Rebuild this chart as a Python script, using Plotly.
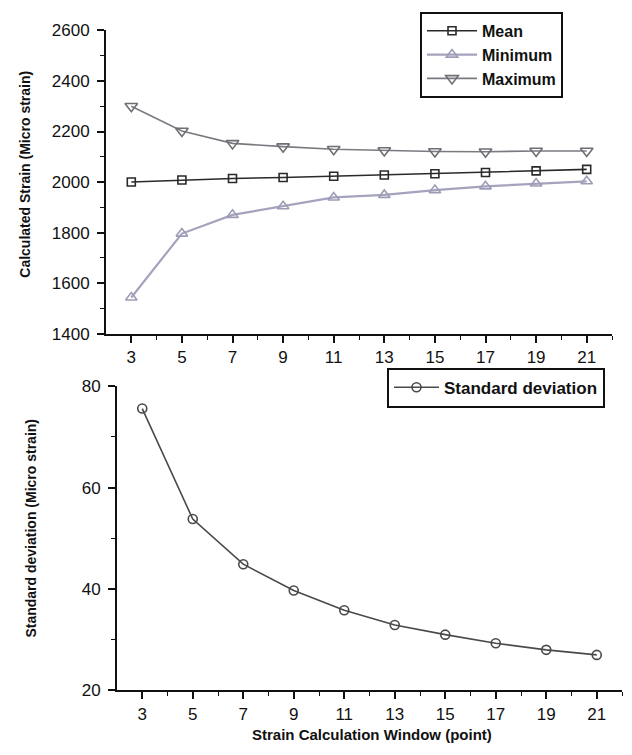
import plotly.graph_objects as go

# ---------------- data ----------------
windows = [3, 5, 7, 9, 11, 13, 15, 17, 19, 21]
mean_strain = [2000, 2008, 2014, 2018, 2023, 2028, 2033, 2038, 2044, 2050]
min_strain = [1543, 1796, 1870, 1904, 1939, 1949, 1968, 1983, 1994, 2003]
max_strain = [2300, 2202, 2153, 2140, 2130, 2125, 2121, 2120, 2123, 2123]
std_dev = [75.6, 53.8, 44.9, 39.7, 35.8, 32.9, 31.0, 29.3, 28.0, 27.0]

x_ticks = [3, 5, 7, 9, 11, 13, 15, 17, 19, 21]
x_minor = [4, 6, 8, 10, 12, 14, 16, 18, 20, 22]

W, H = 632, 755
FONT = "Liberation Sans, Arial, sans-serif"


def px_x(p):
    return p / W


def px_y(p):
    return 1 - p / H


fig = go.Figure()

fig.add_trace(go.Scatter(
    x=windows, y=mean_strain, name="Mean", mode="lines+markers",
    line=dict(color="#2a2a2a", width=1.6),
    marker=dict(symbol="square-open", size=8, color="#2a2a2a", line=dict(width=1.6)),
    xaxis="x", yaxis="y", legend="legend"))
fig.add_trace(go.Scatter(
    x=windows, y=min_strain, name="Minimum", mode="lines+markers",
    line=dict(color="#a4a3bd", width=2.2),
    marker=dict(symbol="triangle-up-open", size=10, color="#9d9cb6", line=dict(width=1.6)),
    xaxis="x", yaxis="y", legend="legend"))
fig.add_trace(go.Scatter(
    x=windows, y=max_strain, name="Maximum", mode="lines+markers",
    line=dict(color="#7a7a80", width=1.6),
    marker=dict(symbol="triangle-down-open", size=11, color="#6e6e75", line=dict(width=1.6)),
    xaxis="x", yaxis="y", legend="legend"))
fig.add_trace(go.Scatter(
    x=windows, y=std_dev, name="Standard deviation", mode="lines+markers",
    line=dict(color="#4a4a4a", width=1.6),
    marker=dict(symbol="circle-open", size=9, color="#4a4a4a", line=dict(width=1.6)),
    xaxis="x2", yaxis="y2", legend="legend2"))

axis_common = dict(
    showline=True, linecolor="#111", linewidth=2, mirror=False,
    showgrid=False, zeroline=False, ticks="outside", ticklen=7,
    tickwidth=1.5, tickcolor="#111",
    tickfont=dict(family=FONT, size=17, color="#111"),
)
minor_common = dict(ticks="outside", ticklen=4, tickcolor="#111", tickwidth=1.2)

fig.update_layout(
    width=W, height=H,
    margin=dict(l=0, r=0, t=0, b=0),
    paper_bgcolor="white", plot_bgcolor="white",
    showlegend=True,
    xaxis=dict(domain=[px_x(106), px_x(612)], range=[2, 22], anchor="y",
               tickvals=x_ticks,
               minor=dict(tickvals=x_minor, **minor_common),
               **axis_common),
    yaxis=dict(domain=[px_y(333), px_y(22)], range=[1400, 2600], anchor="x",
               tick0=1400, dtick=200, ticklabelstandoff=4,
               minor=dict(dtick=100, **minor_common),
               **axis_common),
    xaxis2=dict(domain=[px_x(117), px_x(622)], range=[2, 22], anchor="y2",
                tickvals=x_ticks,
                minor=dict(tickvals=x_minor, **minor_common),
                **axis_common),
    yaxis2=dict(domain=[px_y(699), px_y(387)], range=[20, 80], anchor="x2",
                tick0=20, dtick=20, ticklabelstandoff=4,
                minor=dict(dtick=10, **minor_common),
                **axis_common),
    legend=dict(x=px_x(420), y=px_y(3), xanchor="left", yanchor="top",
                bgcolor="white", bordercolor="#111", borderwidth=2,
                itemwidth=50, tracegroupgap=0,
                font=dict(family=FONT, size=16, color="#111", weight="bold")),
    legend2=dict(x=px_x(387), y=px_y(368), xanchor="left", yanchor="top",
                 bgcolor="white", bordercolor="#111", borderwidth=2,
                 itemwidth=45,
                 font=dict(family=FONT, size=17, color="#111", weight="bold")),
    annotations=[
        dict(text="Calculated Strain (Micro strain)", textangle=-90,
             x=px_x(25), y=px_y(170), xref="paper", yref="paper",
             xanchor="center", yanchor="middle",
             showarrow=False, font=dict(family=FONT, size=14, color="#111", weight="bold")),
        dict(text="Standard deviation (Micro strain)", textangle=-90,
             x=px_x(31), y=px_y(533), xref="paper", yref="paper",
             xanchor="center", yanchor="middle",
             showarrow=False, font=dict(family=FONT, size=14, color="#111", weight="bold")),
        dict(text="Strain Calculation Window (point)",
             x=px_x(372), y=px_y(744), xref="paper", yref="paper",
             xanchor="center", yanchor="middle",
             showarrow=False, font=dict(family=FONT, size=15, color="#111", weight="bold")),
    ],
)

fig.write_html("out.html")
